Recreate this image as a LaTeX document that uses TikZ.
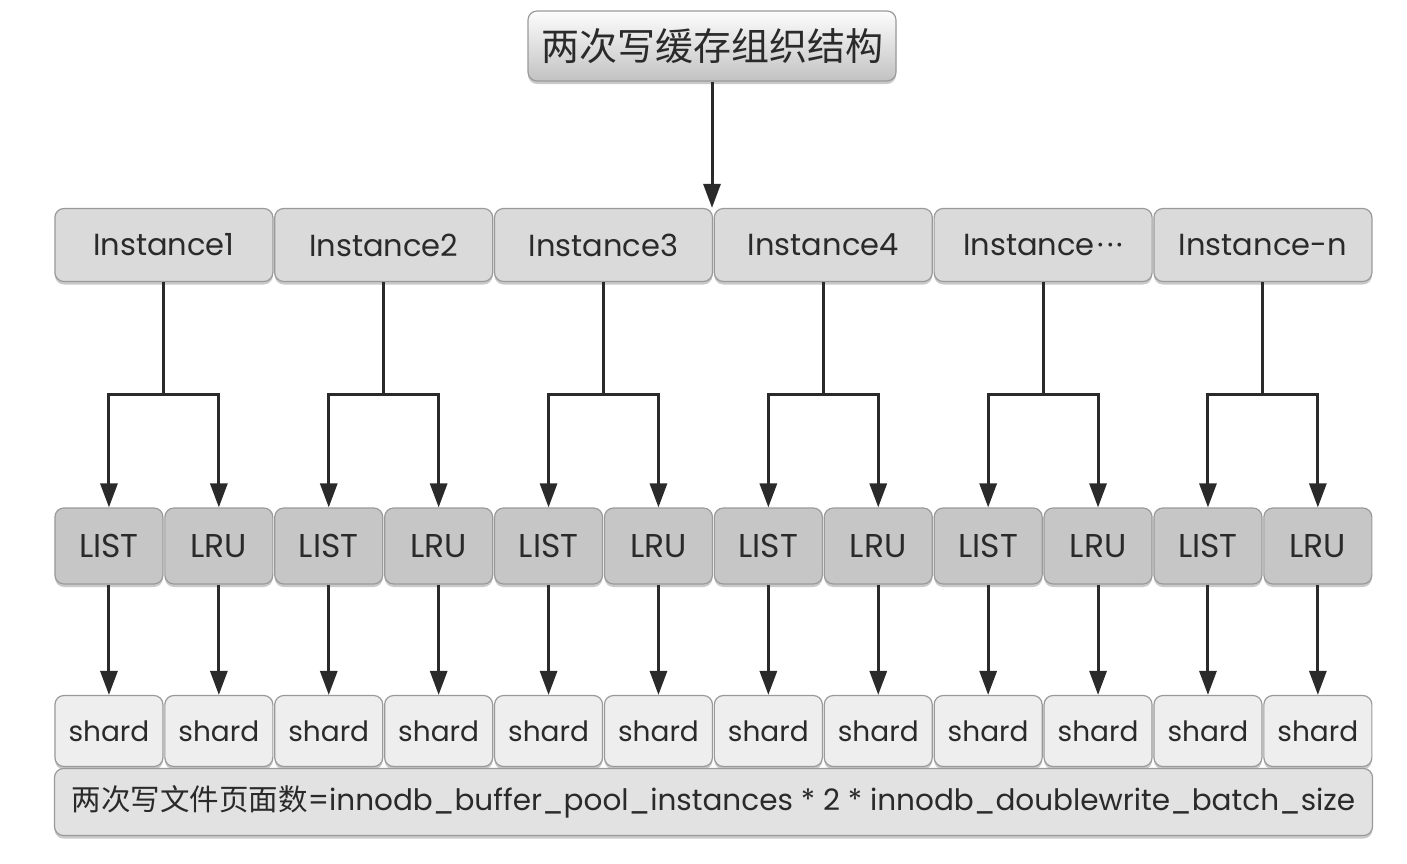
\documentclass[tikz,border=0pt]{standalone}
\usepackage{fontspec}
\setmainfont{Poppins}
\newfontfamily\cjk{Noto Sans CJK SC}
\usetikzlibrary{arrows.meta,shadows,calc}
\definecolor{edge}{HTML}{9A9A9A}
\definecolor{titlefill}{HTML}{E4E4E4}
\definecolor{instfill}{HTML}{DADADA}
\definecolor{listfill}{HTML}{C6C6C6}
\definecolor{shardfill}{HTML}{EEEEEE}
\definecolor{basefill}{HTML}{E2E2E2}
\definecolor{ink}{HTML}{2A2A2A}
\tikzset{
  box/.style={draw=edge, line width=1.2pt, rounded corners=9pt, inner sep=0pt, text=ink,
    drop shadow={shadow xshift=0pt, shadow yshift=-3pt, fill=black!35, opacity=0.6}},
  titlebox/.style={box, top color=white!92!titlefill, bottom color=titlefill!85!black,
    minimum width=368pt, minimum height=70pt, font=\cjk\fontsize{38}{44}\selectfont},
  instbox/.style={box, fill=instfill, minimum width=218pt, minimum height=73pt,
    font=\fontsize{30.5}{34}\selectfont},
  listbox/.style={box, fill=listfill, minimum width=108pt, minimum height=76pt,
    font=\fontsize{33}{38}\selectfont},
  shardbox/.style={box, fill=shardfill, minimum width=108pt, minimum height=71pt,
    font=\fontsize{28}{32}\selectfont},
  basebox/.style={box, fill=basefill, minimum width=1318pt, minimum height=67pt,
    font=\fontsize{29.5}{34}\selectfont},
  wire/.style={draw=ink, line width=3pt},
  arr/.style={wire, -{Triangle[length=24pt,width=17pt]}}
}
\newcommand{\mydots}{\kern3pt·\kern3pt·\kern3pt·}
\begin{document}
\begin{tikzpicture}[x=1pt,y=-1pt]
\useasboundingbox[fill=white] (0,0) rectangle (1407,863);
\node[titlebox] (title) at (712,46) {两次写缓存组织结构};
\foreach \i/\t in {1/Instance1,2/Instance2,3/Instance3,4/Instance4,5/Instance\mydots,6/Instance-n}{
  \node[instbox] (I\i) at ({54+219.8*(\i-0.5)},245) {\t};
}
\foreach \j in {1,...,6}{
  \pgfmathsetmacro{\xa}{54+109.9*(2*\j-1.5)}
  \pgfmathsetmacro{\xb}{54+109.9*(2*\j-0.5)}
  \node[listbox] (L\j) at (\xa,546) {LIST};
  \node[listbox] (R\j) at (\xb,546) {LRU};
  \node[shardbox] (SL\j) at (\xa,731) {shard};
  \node[shardbox] (SR\j) at (\xb,731) {shard};
}
\node[basebox] (base) at (713.5,802) {{\cjk 两次写文件页面数}=innodb\_buffer\_pool\_instances * 2 * innodb\_doublewrite\_batch\_size};
% connectors
\draw[arr] (title.south) -- (title.south |- I3.north);
\foreach \j in {1,...,6}{
  \coordinate (J\j) at ($(I\j.south)+(0,112)$);
  \draw[wire] (I\j.south) -- (J\j);
  \draw[arr] (J\j) -| (L\j.north);
  \draw[arr] (J\j) -| (R\j.north);
  \draw[arr] (L\j.south) -- (SL\j.north);
  \draw[arr] (R\j.south) -- (SR\j.north);
}
\end{tikzpicture}
\end{document}
